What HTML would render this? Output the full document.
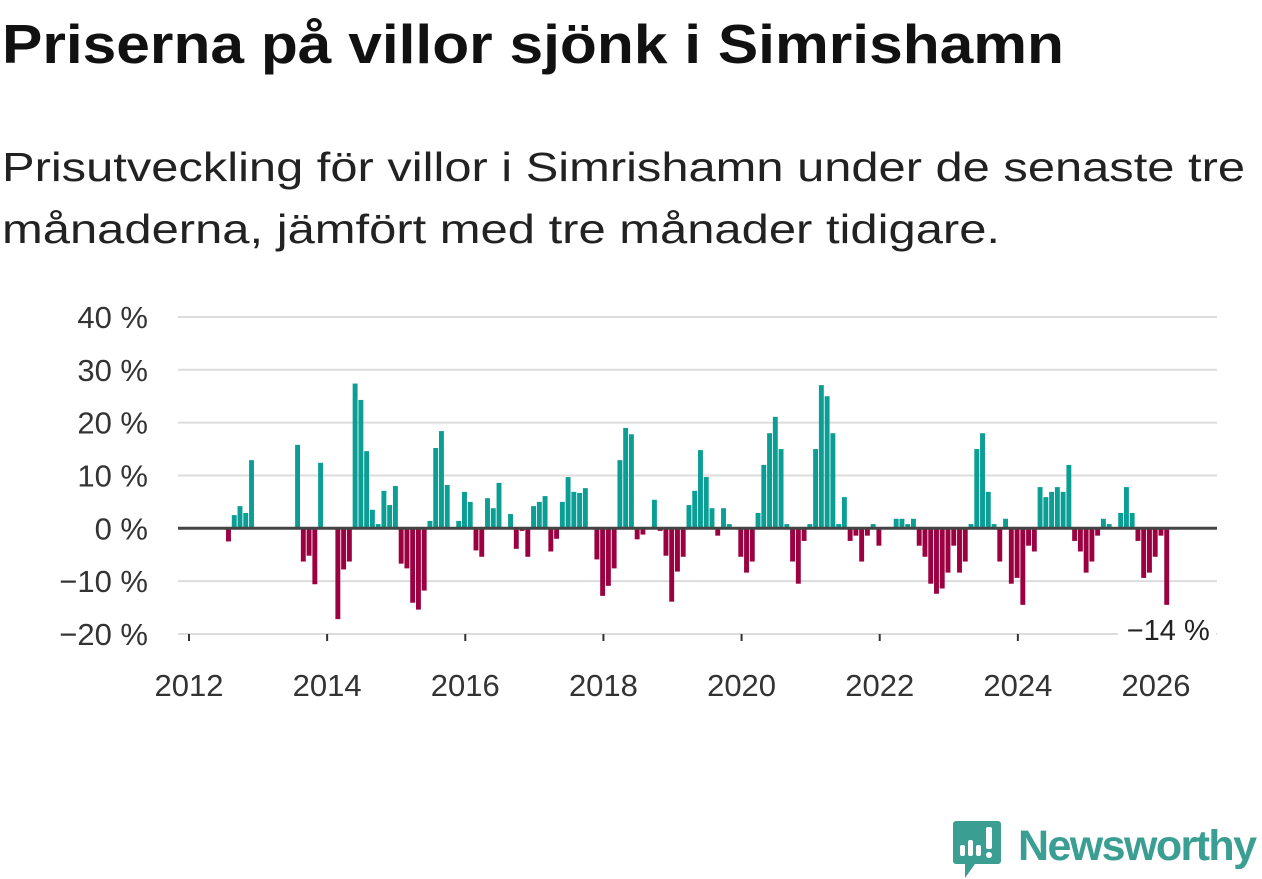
<!DOCTYPE html>
<html><head><meta charset="utf-8"><style>
html,body{margin:0;padding:0;background:#fff;width:1262px;height:879px;overflow:hidden;font-family:"Liberation Sans","DejaVu Sans",sans-serif;}
svg{position:absolute;left:0;top:0;}
</style></head><body>
<svg id="chart" width="1262" height="879">
<text x="2" y="63" font-size="55" font-weight="bold" fill="#111" textLength="1062" lengthAdjust="spacingAndGlyphs">Priserna på villor sjönk i Simrishamn</text>
<text x="2" y="181" font-size="41" fill="#222" textLength="1243" lengthAdjust="spacingAndGlyphs">Prisutveckling för villor i Simrishamn under de senaste tre</text>
<text x="2" y="243" font-size="41" fill="#222" textLength="998" lengthAdjust="spacingAndGlyphs">månaderna, jämfört med tre månader tidigare.</text>
</svg>
<script>
const startYear = 2012;
const values = [
0,0,0,0,0,0,-2.3,2.5,4.2,2.9,12.9,0,
0,0,0,0,0,0,15.8,-6.1,-5.0,-10.4,12.4,0,
0,-17.0,-7.6,-6.1,27.4,24.3,14.6,3.5,0.8,7.1,4.4,8.0,
-6.5,-7.4,-13.9,-15.2,-11.6,1.4,15.2,18.4,8.2,0,1.4,6.9,
5.0,-4.0,-5.2,5.7,3.8,8.6,0,2.7,-3.7,-0.3,-5.2,4.2,
5.0,6.1,-4.2,-1.8,5.0,9.7,6.9,6.7,7.6,0,-5.7,-12.6,
-10.7,-7.4,12.9,19.0,17.8,-1.9,-1.0,0,5.4,-0.3,-5.0,-13.7,
-8.0,-5.2,4.4,7.1,14.8,9.7,3.8,-1.2,3.8,0.8,0,-5.2,
-8.2,-6.1,2.9,12.0,18.0,21.1,15.0,0.8,-6.1,-10.3,-2.2,0.8,
15.0,27.1,25.0,18.0,0.8,5.9,-2.2,-1.2,-6.1,-1.2,0.8,-3.1,
0,0,1.8,1.8,0.8,1.8,-3.1,-5.2,-10.3,-12.2,-11.2,-8.2,
-3.1,-8.2,-6.1,0.8,15.0,18.0,6.9,0.8,-6.1,1.8,-10.3,-9.2,
-14.3,-3.1,-4.2,7.8,5.9,6.9,7.8,6.9,12.0,-2.2,-4.2,-8.2,
-6.1,-1.2,1.8,0.8,0,2.9,7.8,2.9,-2.2,-9.2,-8.2,-5.2,
-1.2,-14.3];
const yTicks = [40,30,20,10,0,-10,-20];
const yTickLabels = ["40 %","30 %","20 %","10 %","0 %","\u221210 %","\u221220 %"];
const xTicks = [2012,2014,2016,2018,2020,2022,2024,2026];
const lastLabel = "\u221214 %";

const NS="http://www.w3.org/2000/svg";
const svg=document.getElementById('chart');
function y(v){return 528.3 - v*5.283;}
function xm(m){return 189 + m*5.756;}
function xYear(yr){return xm((yr-startYear)*12);}
function mk(tag,attrs,parent){const e=document.createElementNS(NS,tag);for(const k in attrs)e.setAttribute(k,attrs[k]);(parent||svg).appendChild(e);return e;}
const FF='Liberation Sans, DejaVu Sans, sans-serif';

yTicks.forEach((t,i)=>{
  if(t!==0){
    const g=mk('line',{x1:178,x2:1217,y1:y(t),y2:y(t),stroke:'#dcdcdc','stroke-width':2});
    
    
  }
  const tx=mk('text',{x:148,y:y(t)+11,'text-anchor':'end','font-size':31,fill:'#333','font-family':FF});
  tx.textContent=yTickLabels[i];
  
  
});
values.forEach((v,m)=>{
  if(v===0)return;
  const top=v>0?y(v):y(0)+1;
  const h=Math.abs(y(v)-y(0));
  const r=mk('rect',{x:xm(m)+2.5,y:top,width:4.9,height:h,fill:v>0?'#0a9e94':'#9b0040'});
  
  
});
const z=mk('line',{x1:178,x2:1217,y1:y(0),y2:y(0),stroke:'#444','stroke-width':3});


xTicks.forEach(yr=>{
  const tk=mk('line',{x1:xYear(yr),x2:xYear(yr),y1:634,y2:641,stroke:'#333','stroke-width':2});
  
  
  const tx=mk('text',{x:xYear(yr),y:696,'text-anchor':'middle','font-size':31,fill:'#333','font-family':FF});
  tx.textContent=yr;
  
  
});
const lm=values.length-1;
const bg=mk('rect',{x:1118,y:612,width:98,height:32,fill:'#fff'});


const lt=mk('text',{x:xm(lm)+48,y:640,'text-anchor':'end','font-size':29,fill:'#222','font-family':FF});
lt.textContent=lastLabel;



const lg=mk('g',{});


mk('path',{d:'M956 821 h42 a3 3 0 0 1 3 3 v37 a3 3 0 0 1 -3 3 h-23 l-10 14 v-14 h-9 a3 3 0 0 1 -3 -3 v-37 a3 3 0 0 1 3 -3z',fill:'#3a9e92'},lg);
mk('rect',{x:960,y:845,width:5,height:11,rx:2,fill:'#fff'},lg);
mk('rect',{x:968,y:840,width:5,height:16,rx:2,fill:'#fff'},lg);
mk('rect',{x:976,y:845,width:5,height:11,rx:2,fill:'#fff'},lg);
mk('rect',{x:986,y:827,width:6,height:22,rx:2,fill:'#fff'},lg);
mk('circle',{cx:989,cy:855,r:3,fill:'#fff'},lg);
const lt2=mk('text',{x:1018,y:860,'font-size':43,fill:'#3a9e92','font-weight':'bold','font-family':FF,textLength:239},lg);
lt2.textContent='Newsworthy';
</script>
</body></html>
